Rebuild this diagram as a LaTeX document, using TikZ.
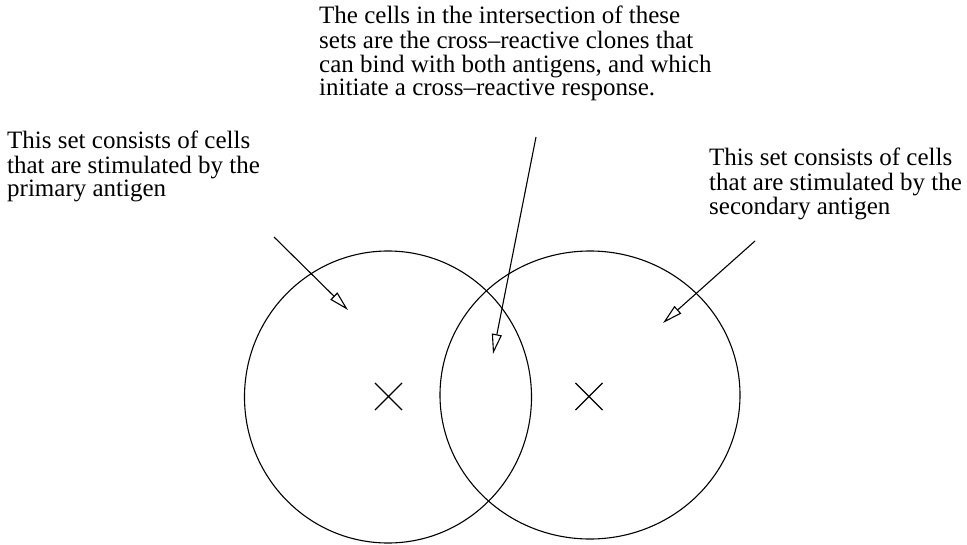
\documentclass[tikz,border=0pt]{standalone}
\usepackage{fontspec}
\setmainfont{Liberation Serif}
\usetikzlibrary{shapes.geometric,shapes.misc,arrows.meta}
\newcommand{\lines}[1]{\begin{tabular}{@{}l@{}}#1\end{tabular}}
\begin{document}
\begin{tikzpicture}[x=1pt,y=-1pt,
  lbl/.style={inner sep=0pt,anchor=north west,font=\fontsize{25}{23}\selectfont},
  setshape/.style={draw,ellipse,line width=1.1pt,inner sep=0pt},
  centremark/.style={draw,cross out,line width=1.1pt,minimum size=26pt,inner sep=0pt},
  pointer/.style={line width=1.1pt,-{Triangle[open,length=20pt,width=10pt]}}]
\useasboundingbox (0,0) rectangle (967,544);
\node[setshape,minimum width=287pt,minimum height=292pt] (setA) at (388,397) {};
\node[setshape,minimum width=300pt,minimum height=288pt] (setB) at (590,395) {};
\node[centremark] (xA) at (388.5,396.5) {};
\node[centremark] (xB) at (589,396.5) {};
\node[lbl] (tA) at (7,131) {\lines{This set consists of cells\\that are stimulated by the\\primary antigen}};
\node[lbl] (tB) at (709,148) {\lines{This set consists of cells\\that are stimulated by the\\secondary antigen}};
\node[lbl] (tC) at (319,6) {\lines{The cells in the intersection of these\\sets are the cross--reactive clones that\\can bind with both antigens, and which\\initiate a cross--reactive response.}};
\coordinate (sA) at (274,237);
\coordinate (eA) at (348,310);
\coordinate (sC) at (536,137);
\coordinate (eC) at (493,354);
\coordinate (sB) at (755,241);
\coordinate (eB) at (663,323);
\draw[pointer] (sA) -- (eA);
\draw[pointer] (sC) -- (eC);
\draw[pointer] (sB) -- (eB);
\end{tikzpicture}
\end{document}
